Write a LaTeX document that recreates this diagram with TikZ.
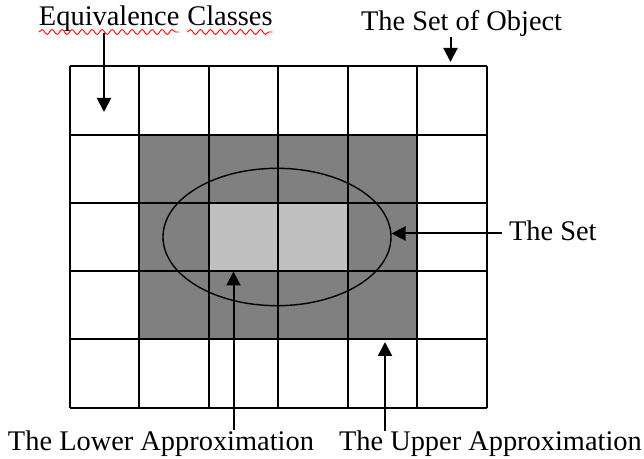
\documentclass[tikz,border=0pt]{standalone}
\usepackage{fontspec}
\setmainfont{Liberation Serif}
\usetikzlibrary{arrows.meta,calc,decorations.pathmorphing}
\definecolor{darkcell}{HTML}{808080}
\definecolor{lightcell}{HTML}{C0C0C0}
\tikzset{
  lbl/.style={inner sep=0pt,outer sep=0pt,font=\fontsize{14.2pt}{17pt}\selectfont,anchor=base west},
  gridline/.style={line width=1pt,black},
  arr/.style={line width=1pt,-{Triangle[length=7pt,width=7pt]}},
  setline/.style={line width=0.7pt,black},
  squig/.style={red,line width=0.45pt,decorate,decoration={snake,segment length=5,amplitude=1.2}}
}
\begin{document}
\begin{tikzpicture}[x=0.5pt,y=-0.5pt]
\useasboundingbox (0,0) rectangle (644,459);
% shaded cells
\fill[darkcell] (139,134.75) rectangle (417,339.5);
\fill[lightcell] (208.5,203) rectangle (347.5,271.25);
% grid
\foreach \i in {0,...,6} {\draw[gridline] ({69.5+69.5*\i},66.5) -- ({69.5+69.5*\i},407.75);}
\foreach \j in {0,...,5} {\draw[gridline] (69.5,{66.5+68.25*\j}) -- (486.5,{66.5+68.25*\j});}
% the set
\draw[setline] (277,237) ellipse [x radius=114,y radius=68.7];
% labels
\node[lbl] (eqa) at (39,26) {Equivalence};
\node[lbl] (eqb) at ($(eqa.base east)+(8,0)$) {Classes};
\node[lbl] (obj) at (361,31) {The Set of Object};
\node[lbl] (set) at (509,241) {The Set};
\node[lbl] (low) at (8,451) {The Lower Approximation};
\node[lbl] (up) at (339,451) {The Upper Approximation};
% spell-check underline
\draw[squig] ($(eqa.base west)+(0,6)$) -- ($(eqa.base east)+(0,6)$);
\draw[squig] ($(eqb.base west)+(0,6)$) -- ($(eqb.base east)+(0,6)$);
% arrow coordinates
\coordinate (eqs) at (104,33);
\coordinate (eqt) at (104,112);
\coordinate (objs) at (450.5,37);
\coordinate (objt) at (450.5,62);
\coordinate (sets) at (502,233.5);
\coordinate (sett) at (391.5,233.5);
\coordinate (lows) at (233.5,430);
\coordinate (lowt) at (233.5,271.5);
\coordinate (ups) at (385,431);
\coordinate (upt) at (385,342);
\draw[arr] (eqs) -- (eqt);
\draw[arr] (objs) -- (objt);
\draw[arr] (sets) -- (sett);
\draw[arr] (lows) -- (lowt);
\draw[arr] (ups) -- (upt);
\end{tikzpicture}
\end{document}
